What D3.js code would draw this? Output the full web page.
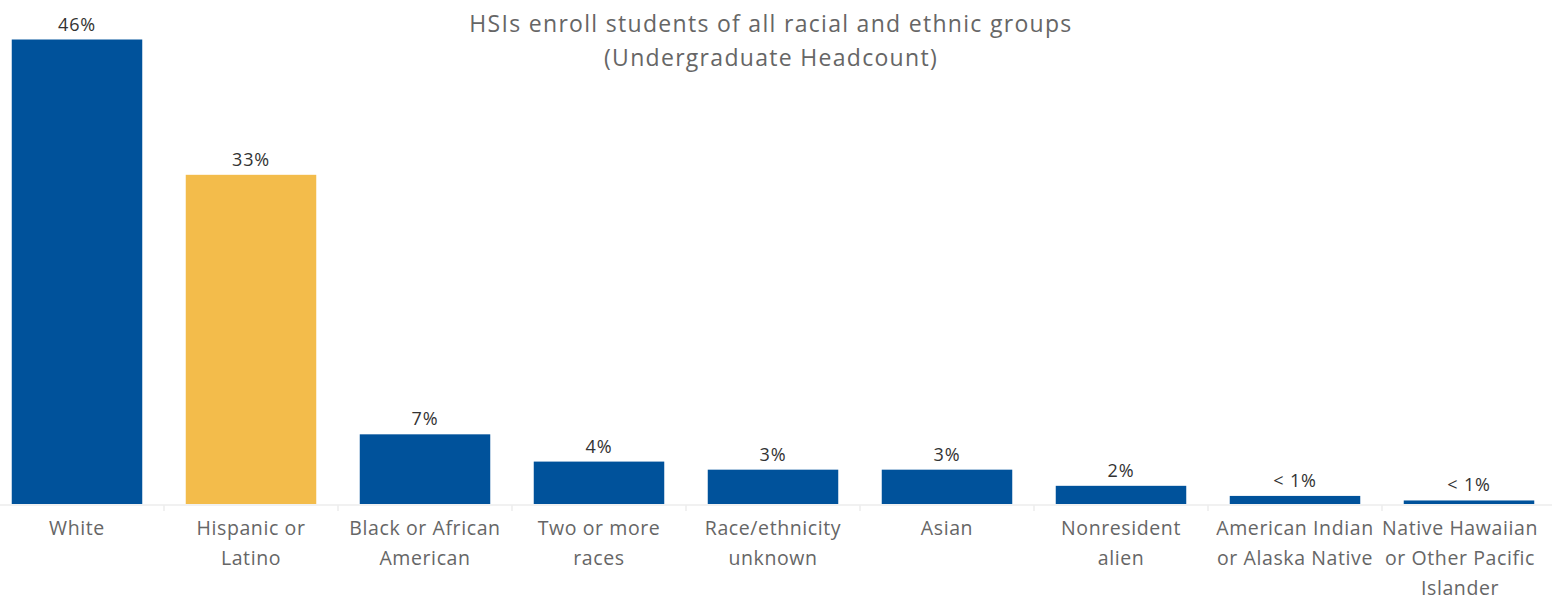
<!doctype html>
<html lang="en">
  <head>
    <meta charset="UTF-8"/>
    <title>HSIs enroll students of all racial and ethnic groups</title>
    <script src="https://cdnjs.cloudflare.com/ajax/libs/d3/7.8.5/d3.min.js"></script>
    <style>
      body { margin: 0; background: #fff; }
      svg { display: block; font-family: "Open Sans", Lato, sans-serif; }
    </style>
  </head>
  <body>
    <div id="chart"></div>
    <script>
      // categories (label lines), values in % of undergraduate headcount
      var categories = [
        ["White"],
        ["Hispanic or", "Latino"],
        ["Black or African", "American"],
        ["Two or more", "races"],
        ["Race/ethnicity", "unknown"],
        ["Asian"],
        ["Nonresident", "alien"],
        ["American Indian", "or Alaska Native"],
        ["Native Hawaiian", "or Other Pacific", "Islander"]
      ];
      var values = [46.0, 32.6, 6.9, 4.2, 3.4, 3.4, 1.8, 0.8, 0.35];
      var highlight = ["Hispanic or Latino"];
      var titleLines = ["HSIs enroll students of all racial and ethnic groups", "(Undergraduate Headcount)"];

      var width = 1552, height = 600;
      var baseline = 504;

      var data = categories.map((c, i) => ({ name: c.join(" "), lines: c, value: values[i] }));

      var svg = d3.select("#chart").append("svg")
          .attr("width", width)
          .attr("height", height);

      var x = d3.scaleBand()
          .domain(data.map(d => d.name))
          .range([-10, 1556])
          .paddingInner(0.25)
          .paddingOuter(0.125);

      var y = d3.scaleLinear()
          .domain([0, 46])
          .range([baseline, 39.5]);

      // title
      svg.append("g").selectAll("text")
        .data(titleLines)
        .enter().append("text")
        .attr("x", 771)
        .attr("y", (d, i) => 32 + i * 34)
        .attr("text-anchor", "middle")
        .attr("fill", "#666")
        .attr("font-size", 23)
        .attr("letter-spacing", 1.3)
        .text(d => d);

      // axis baseline + separators
      svg.append("line")
        .attr("x1", 0).attr("x2", width)
        .attr("y1", baseline + 1).attr("y2", baseline + 1)
        .attr("stroke", "#ececec")
        .attr("stroke-width", 1.5);

      svg.append("g").selectAll("line")
        .data(data.slice(1))
        .enter().append("line")
        .attr("x1", d => x(d.name) - x.step() * x.paddingInner() / 2)
        .attr("x2", d => x(d.name) - x.step() * x.paddingInner() / 2)
        .attr("y1", baseline + 1)
        .attr("y2", baseline + 7)
        .attr("stroke", "#ececec")
        .attr("stroke-width", 1.5);

      // bars
      svg.append("g").selectAll("rect")
        .data(data)
        .enter().append("rect")
        .attr("x", d => x(d.name))
        .attr("y", d => y(d.value))
        .attr("width", x.bandwidth())
        .attr("height", d => y(0) - y(d.value))
        .attr("fill", d => highlight.includes(d.name) ? "#f3bc4b" : "#00529b");

      // value labels
      svg.append("g").selectAll("text")
        .data(data)
        .enter().append("text")
        .attr("x", d => x(d.name) + x.bandwidth() / 2)
        .attr("y", d => y(d.value) - 9)
        .attr("text-anchor", "middle")
        .attr("fill", "#333")
        .attr("font-size", 18)
        .attr("letter-spacing", 0.8)
        .text(d => d.value < 1 ? "< 1%" : Math.round(d.value) + "%");

      // category labels
      var lab = svg.append("g").selectAll("text")
        .data(data)
        .enter().append("text")
        .attr("x", d => x(d.name) + x.bandwidth() / 2)
        .attr("y", 535)
        .attr("text-anchor", "middle")
        .attr("fill", "#666")
        .attr("font-size", 19.5)
        .attr("letter-spacing", 0.6);

      lab.selectAll("tspan")
        .data(d => d.lines.map(l => ({ t: l, cx: x(d.name) + x.bandwidth() / 2 })))
        .enter().append("tspan")
        .attr("x", d => d.cx)
        .attr("dy", (d, i) => i == 0 ? 0 : 30)
        .text(d => d.t);

      // keep labels inside the right edge (shift whole block left)
      lab.each(function() {
        var bb = this.getBBox();
        var over = bb.x + bb.width - (width - 14);
        if (over > 0) {
          d3.select(this).selectAll("tspan").attr("x", d => d.cx - over);
        }
      });
    </script>
  </body>
</html>
